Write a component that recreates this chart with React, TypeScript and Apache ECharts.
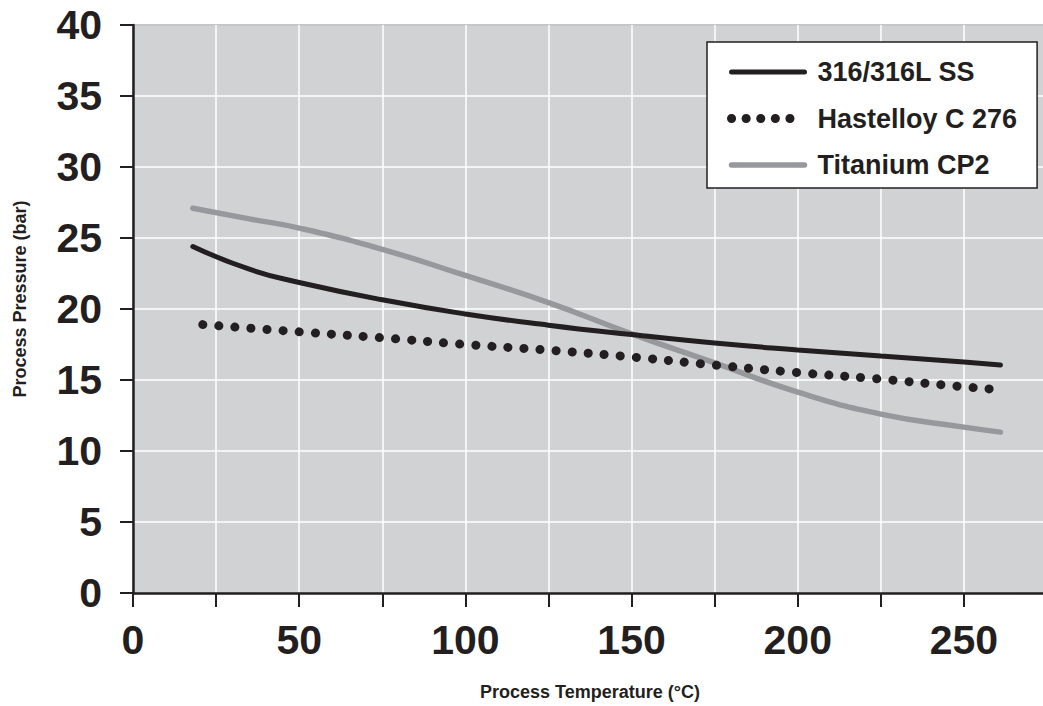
import React, { useEffect, useRef } from "react";
import * as echarts from "echarts";

const seriesNames = ["316/316L SS", "Hastelloy C 276", "Titanium CP2"];

const tempSS = [18, 35, 50, 75, 100, 125, 150, 175, 200, 225, 250, 261];
const pressSS = [24.4, 22.8, 21.87, 20.65, 19.65, 18.86, 18.2, 17.6, 17.12, 16.69, 16.27, 16.06];

const tempHast = [21, 50, 75, 100, 125, 150, 175, 200, 225, 250, 261];
const pressHast = [18.9, 18.39, 17.97, 17.5, 17.1, 16.62, 16.05, 15.52, 15.06, 14.52, 14.31];

const tempTi = [18, 35, 50, 75, 100, 125, 150, 175, 200, 225, 250, 261];
const pressTi = [27.1, 26.35, 25.7, 24.2, 22.36, 20.45, 18.25, 16.2, 14.15, 12.6, 11.68, 11.33];

const xTicks = [0, 50, 100, 150, 200, 250];

const FONT = "'Liberation Sans', Arial, Helvetica, sans-serif";
const INK = "#231f20";
const GRAYLINE = "#97989b";

const pair = (xs: number[], ys: number[]) => xs.map((x, i) => [x, ys[i]]);

export default function App() {
  const ref = useRef<HTMLDivElement>(null);
  useEffect(() => {
    if (!ref.current) return;
    const chart = echarts.init(ref.current, null, { renderer: "svg" });
    chart.setOption({
      animation: false,
      textStyle: { fontFamily: FONT },
      grid: {
        show: true,
        left: 133,
        right: 0,
        top: 25,
        bottom: 109,
        backgroundColor: "#d1d2d4",
        borderColor: INK,
        borderWidth: 2,
      },
      legend: {
        orient: "vertical",
        left: 707,
        top: 42,
        padding: [16.5, 20, 9.5, 20],
        itemWidth: 73,
        itemHeight: 27,
        itemGap: 19.5,
        backgroundColor: "#ffffff",
        borderColor: INK,
        borderWidth: 1.5,
        borderRadius: 0,
        itemStyle: { color: "transparent", borderWidth: 0, opacity: 0 },
        textStyle: {
          fontFamily: FONT,
          fontWeight: "bold",
          fontSize: 27,
          lineHeight: 27,
          color: INK,
          padding: [0, 0, 0, 8],
        },
        data: [
          { name: seriesNames[0], lineStyle: { width: 5, cap: "round" } },
          { name: seriesNames[1], lineStyle: { width: 9, type: [0.1, 14.5], cap: "round" } },
          { name: seriesNames[2], lineStyle: { width: 5.5, cap: "round" } },
        ],
      },
      xAxis: {
        type: "value",
        min: 0,
        max: 275,
        interval: 25,
        name: "Process Temperature (°C)",
        nameLocation: "middle",
        nameGap: 90,
        nameTextStyle: { fontFamily: FONT, fontWeight: "bold", fontSize: 18, color: INK },
        axisLine: { show: true, lineStyle: { color: INK, width: 2.5 } },
        axisTick: { show: true, length: 14, lineStyle: { color: INK, width: 2 } },
        axisLabel: {
          margin: 26,
          fontFamily: FONT,
          fontWeight: "bold",
          fontSize: 41,
          color: INK,
          formatter: (v: number) => (xTicks.includes(v) ? String(v) : ""),
        },
        splitLine: { show: true, lineStyle: { color: "#ffffff", width: 1.5 } },
      },
      yAxis: {
        type: "value",
        min: 0,
        max: 40,
        interval: 5,
        name: "Process Pressure (bar)",
        nameLocation: "middle",
        nameGap: 104,
        nameTextStyle: {
          fontFamily: FONT,
          fontWeight: "bold",
          fontSize: 18,
          color: INK,
          padding: [0, 0, 0, 20],
        },
        axisLine: { show: true, lineStyle: { color: INK, width: 2.5 } },
        axisTick: { show: true, length: 13, lineStyle: { color: INK, width: 2 } },
        axisLabel: {
          margin: 31,
          fontFamily: FONT,
          fontWeight: "bold",
          fontSize: 41,
          color: INK,
        },
        splitLine: { show: true, lineStyle: { color: "#ffffff", width: 1.5 } },
      },
      series: [
        {
          name: seriesNames[0],
          type: "line",
          smooth: true,
          symbol: "none",
          showSymbol: false,
          color: INK,
          lineStyle: { color: INK, width: 5, cap: "round" },
          data: pair(tempSS, pressSS),
          z: 3,
        },
        {
          name: seriesNames[1],
          type: "line",
          smooth: true,
          symbol: "none",
          showSymbol: false,
          color: INK,
          lineStyle: { color: INK, width: 9, type: [0.1, 16], cap: "round" },
          data: pair(tempHast, pressHast),
          z: 4,
        },
        {
          name: seriesNames[2],
          type: "line",
          smooth: true,
          symbol: "none",
          showSymbol: false,
          color: GRAYLINE,
          lineStyle: { color: GRAYLINE, width: 5.5, cap: "round" },
          data: pair(tempTi, pressTi),
          z: 2,
        },
      ],
    });
    return () => chart.dispose();
  }, []);
  return (
    <div
      ref={ref}
      style={{ position: "fixed", left: 0, top: 0, width: 1050, height: 706, background: "#ffffff" }}
    />
  );
}
